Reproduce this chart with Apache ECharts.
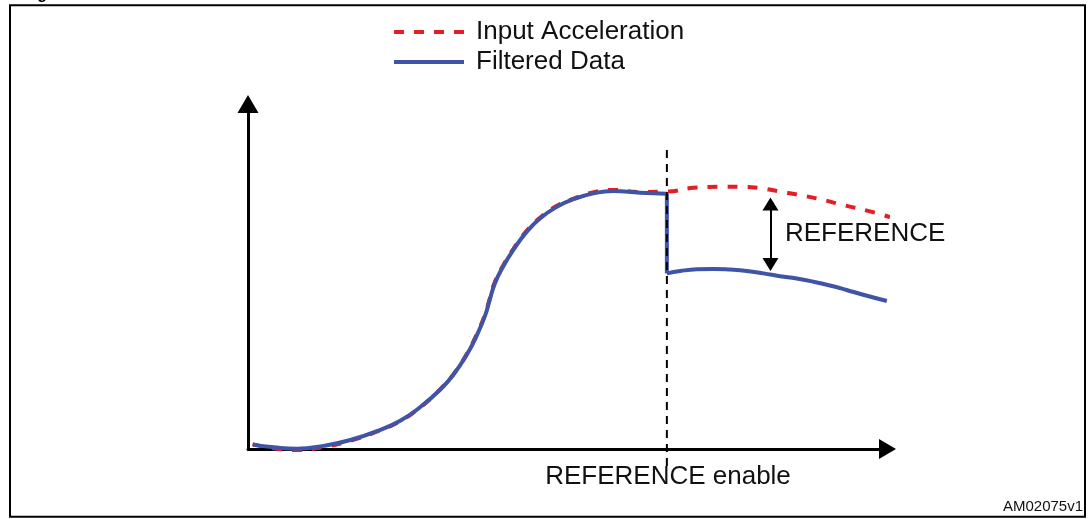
<!DOCTYPE html>
<html>
<head>
<meta charset="utf-8">
<style>html,body{margin:0;padding:0;background:#fff}#c{width:1090px;height:519px}</style>
<script src="https://cdn.jsdelivr.net/npm/echarts@6/dist/echarts.min.js"></script>
</head>
<body>
<div id="c"></div>
<script>
// Input acceleration (red dashed), one continuous trace
var inputX = [0.7, 4.0, 7.6, 11.8, 16.0, 20.6, 23.8, 26.9, 30.0, 32.1, 34.2, 35.8, 37.1, 37.8, 38.6, 39.9, 41.5, 43.6, 45.7, 48.3, 50.9, 54.0, 57.1, 61.3, 65.5, 69.6, 73.8, 76.9, 80.1, 83.2, 86.3, 89.5, 93.1, 96.8, 100.4];
var inputY = [1.4, 0.2, -0.3, 0.6, 2.4, 5.4, 8.1, 12.0, 17.2, 21.6, 27.5, 33.4, 39.2, 43.6, 48.4, 53.2, 58.0, 63.3, 67.1, 70.5, 72.6, 74.4, 75.1, 74.5, 74.6, 75.7, 76.0, 76.0, 75.6, 74.6, 73.6, 72.4, 70.7, 69.1, 67.2];
// Filtered data (blue) before REFERENCE enable
var filtPreX = [0.8, 4.0, 7.6, 11.8, 16.0, 20.6, 23.8, 26.9, 30.0, 32.1, 34.2, 35.8, 37.1, 37.8, 38.6, 39.9, 41.5, 43.6, 45.7, 48.3, 50.9, 54.0, 57.1, 61.3, 65.5];
var filtPreY = [1.2, 0.5, 0.1, 0.9, 2.6, 5.5, 8.2, 12.1, 17.1, 21.5, 27.3, 33.0, 38.8, 43.2, 48.0, 52.9, 57.7, 63.0, 66.9, 70.2, 72.4, 74.1, 74.8, 74.3, 74.0];
// step at REFERENCE enable
var enableX = 65.5;
var stepY = [74.0, 50.9];
// Filtered data after REFERENCE enable
var filtPostX = [65.5, 67.6, 70.2, 72.8, 75.4, 78.0, 80.6, 83.2, 85.8, 88.4, 91.0, 93.6, 96.2, 99.9];
var filtPostY = [50.9, 51.6, 52.1, 52.2, 52.0, 51.6, 50.9, 50.1, 49.4, 48.5, 47.4, 46.1, 44.7, 42.9];
// dashed marker extent
var enableLineY = [86.7, -5.2];
// REFERENCE double arrow
var refArrowX = 81.7;
var refArrowY = [71.0, 53.5];
var legendNames = ['Input Acceleration', 'Filtered Data'];

function zip(xs, ys) { return xs.map(function (x, i) { return [x, ys[i]]; }); }

var RED = '#e31e24', BLUE = '#3f54a6';
var FONT = 'Liberation Sans, Arial, Helvetica, sans-serif';

var chart = echarts.init(document.getElementById('c'), null, {renderer: 'canvas'});
chart.setOption({
  animation: false,
  backgroundColor: '#fff',
  grid: {left: 248, right: 202.5, top: 104, bottom: 70, outerBoundsMode: 'none', containLabel: false},
  legend: {
    orient: 'vertical', left: 392, top: 17, padding: 0,
    itemWidth: 70, itemHeight: 2, itemGap: 0,
    selectedMode: false,
    data: legendNames,
    lineStyle: {width: 4},
    itemStyle: {opacity: 0},
    textStyle: {fontSize: 26, fontFamily: FONT, color: '#111', lineHeight: 30, padding: [0, 0, 0, 7]}
  },
  xAxis: {
    type: 'value', min: 0, max: 100,
    axisLine: {show: true, onZero: false, symbol: ['none', 'triangle'], symbolSize: [20, 17], lineStyle: {color: '#000', width: 3}},
    axisTick: {show: false}, axisLabel: {show: false}, splitLine: {show: false}
  },
  yAxis: {
    type: 'value', min: 0, max: 100,
    axisLine: {show: true, onZero: false, symbol: ['none', 'triangle'], symbolSize: [21, 18], lineStyle: {color: '#000', width: 3}},
    axisTick: {show: false}, axisLabel: {show: false}, splitLine: {show: false}
  },
  series: [
    {
      name: legendNames[0], type: 'line', smooth: 0.5, symbol: 'none', clip: false, z: 2,
      lineStyle: {color: RED, width: 4, type: [10, 10]},
      itemStyle: {color: RED},
      data: zip(inputX, inputY),
      markLine: {
        silent: true, symbol: ['triangle', 'triangle'], symbolSize: [16, 13],
        lineStyle: {color: '#000', width: 2, type: 'solid'},
        itemStyle: {color: '#000'},
        label: {show: false},
        data: [[{coord: [refArrowX, refArrowY[0]]}, {coord: [refArrowX, refArrowY[1]]}]]
      }
    },
    {
      name: legendNames[1], type: 'line', smooth: 0.5, symbol: 'none', clip: false, z: 3,
      lineStyle: {color: BLUE, width: 4}, itemStyle: {color: BLUE},
      data: zip(filtPreX, filtPreY)
    },
    {
      name: legendNames[1], type: 'line', smooth: false, symbol: 'none', clip: false, z: 3,
      lineStyle: {color: BLUE, width: 4}, itemStyle: {color: BLUE},
      data: zip([enableX, enableX], stepY)
    },
    {
      name: legendNames[1], type: 'line', smooth: 0.5, symbol: 'none', clip: false, z: 3,
      lineStyle: {color: BLUE, width: 4}, itemStyle: {color: BLUE},
      data: zip(filtPostX, filtPostY)
    },
    {
      name: 'REFERENCE enable', type: 'line', symbol: 'none', clip: false, z: 4,
      lineStyle: {color: '#000', width: 2, type: [8, 6]}, itemStyle: {color: '#000'},
      data: zip([enableX, enableX], enableLineY)
    }
  ],
  graphic: [
    {type: 'rect', shape: {x: 10, y: 5.3, width: 1075, height: 511.4}, style: {fill: 'none', stroke: '#000', lineWidth: 2}, z: 0, silent: true},
    {type: 'text', x: 23, y: 3, style: {text: 'Figure', font: 'bold 16px ' + FONT, fill: '#000', textVerticalAlign: 'bottom'}, silent: true},
    {type: 'text', x: 785, y: 234, style: {text: 'REFERENCE', font: '26px ' + FONT, fill: '#111', textVerticalAlign: 'middle'}, silent: true},
    {type: 'text', x: 668, y: 477, style: {text: 'REFERENCE enable', font: '26px ' + FONT, fill: '#111', textAlign: 'center', textVerticalAlign: 'middle'}, silent: true},
    {type: 'text', x: 1083, y: 506.5, style: {text: 'AM02075v1', font: '15px ' + FONT, fill: '#111', textAlign: 'right', textVerticalAlign: 'middle'}, silent: true}
  ]
});
</script>
</body>
</html>
